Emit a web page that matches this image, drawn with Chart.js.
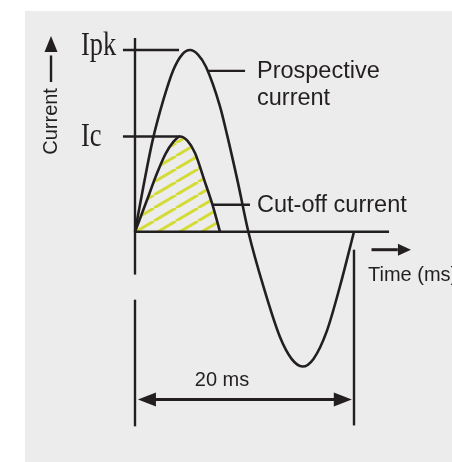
<!DOCTYPE html>
<html>
<head>
<meta charset="utf-8">
<script src="https://cdn.jsdelivr.net/npm/chart.js@4.4.1/dist/chart.umd.min.js"></script>
<style>
  html, body { margin: 0; padding: 0; background: #fff; }
  #wrap { position: relative; width: 452px; height: 462px; overflow: hidden; }
  #panel { position: absolute; left: 25px; top: 11px; right: 0; bottom: 0; background: #ebeceb; }
  #chart { position: absolute; left: 0; top: 0; }
</style>
</head>
<body>
<div id="wrap">
  <div id="panel"></div>
  <canvas id="chart" width="452" height="462"></canvas>
</div>
<script>
// ---- data (time in ms, current relative to Ipk) ----
const prospectiveTime    = [0, 0.8, 1.6, 2.59, 3.5, 4.3, 5.02, 5.75, 6.48, 7.76, 8.42, 9.4, 10.35, 11.72, 13.24, 14.3, 15.3, 16.3, 17.5, 18.72, 20];
const prospectiveCurrent = [0, 0.26, 0.5, 0.725, 0.89, 0.975, 1.0, 0.975, 0.908, 0.69, 0.53, 0.27, 0, -0.30, -0.58, -0.70, -0.742, -0.70, -0.55, -0.30, 0];

const cutoffTime    = [0, 1.07, 2.0, 2.8, 3.45, 4.11, 4.8, 5.48, 6.35, 7.12, 7.76];
const cutoffCurrent = [0, 0.17, 0.32, 0.43, 0.49, 0.524, 0.50, 0.433, 0.28, 0.14, 0];

const levelLabels = ['Ipk', 'Ic'];
const levelValues = [1.0, 0.524];
const periodLabel = '20 ms';
const periodMs = 20;

const ink = '#231f20';
const sans = '"Liberation Sans", Arial, sans-serif';
const serif = '"Liberation Serif", "Times New Roman", serif';

// diagonal yellow hatch for the let-through area
function makeHatch() {
    const w = 22, h = 13;
    const c = document.createElement('canvas');
    c.width = w; c.height = h;
    const g = c.getContext('2d');
    g.strokeStyle = '#d4db34';
    g.lineWidth = 2.9;
    [-w, 0, w].forEach(o => {
        g.beginPath();
        g.moveTo(o, h);
        g.lineTo(o + w, 0);
        g.stroke();
    });
    return document.getElementById('chart').getContext('2d').createPattern(c, 'repeat');
}

const toPoints = (xs, ys) => xs.map((t, i) => ({ x: t, y: ys[i] }));

// annotation layer: axes, leaders, arrows and labels
const diagramPlugin = {
    id: 'diagram',
    afterDatasetsDraw(chart) {
        const { ctx, scales: { x, y } } = chart;
        const X = v => x.getPixelForValue(v);
        const Y = v => y.getPixelForValue(v);

        const seg = (x1, y1, x2, y2, w) => {
            ctx.beginPath();
            ctx.lineWidth = w || 2.4;
            ctx.moveTo(x1, y1);
            ctx.lineTo(x2, y2);
            ctx.stroke();
        };
        // filled arrow head, tip at (tx,ty), pointing along (dx,dy)
        const head = (tx, ty, dx, dy, len, half) => {
            const px = -dy, py = dx;
            ctx.beginPath();
            ctx.moveTo(tx, ty);
            ctx.lineTo(tx - dx * len + px * half, ty - dy * len + py * half);
            ctx.lineTo(tx - dx * len - px * half, ty - dy * len - py * half);
            ctx.closePath();
            ctx.fill();
        };

        ctx.save();
        ctx.strokeStyle = ink;
        ctx.fillStyle = ink;
        ctx.lineCap = 'butt';

        // current axis (broken below the baseline)
        seg(X(0), Y(1.066), X(0), Y(-0.236));
        seg(X(0), Y(-0.374), X(0), Y(-1.071));
        // time axis
        seg(X(0), Y(0), X(23.2), Y(0), 2.6);

        // Ipk / Ic levels
        const levelEnds = [4.02, 4.11];
        levelValues.forEach((v, i) => seg(X(-1.1), Y(v), X(levelEnds[i]), Y(v)));

        // leaders to the curve labels
        seg(X(6.58), Y(0.885), X(10.05), Y(0.885));
        seg(X(7.12), Y(0.148), X(10.5), Y(0.148));

        // end of the period
        seg(X(periodMs), Y(-0.099), X(periodMs), Y(-1.066));

        // 20 ms dimension
        const dimY = Y(-0.923);
        seg(X(0.27) + 10, dimY, X(periodMs - 0.2) - 10, dimY, 3);
        head(X(0.27), dimY, -1, 0, 18, 7);
        head(X(periodMs - 0.2), dimY, 1, 0, 18, 7);

        // time arrow
        const tY = Y(-0.099);
        seg(X(21.6), tY, X(24.0), tY, 3);
        head(X(25.2), tY, 1, 0, 13, 6);

        // current arrow
        const cX = X(-7.67);
        seg(cX, Y(0.824), cX, Y(0.97), 2.4);
        head(cX, Y(1.077), 0, -1, 16, 6.5);

        // serif level labels, slightly condensed
        ctx.font = '33px ' + serif;
        ctx.textAlign = 'left';
        ctx.textBaseline = 'alphabetic';
        const levelBase = [0.973, 0.473];
        levelLabels.forEach((txt, i) => {
            ctx.save();
            ctx.translate(X(-4.93), Y(levelBase[i]));
            ctx.scale(0.8, 1);
            ctx.fillText(txt, 0, 0);
            ctx.restore();
        });

        // curve labels
        ctx.font = '23.5px ' + sans;
        ctx.fillText('Prospective', X(11.14), Y(0.845));
        ctx.fillText('current', X(11.14), Y(0.698));
        ctx.fillText('Cut-off current', X(11.14), Y(0.11));

        ctx.font = '20px ' + sans;
        ctx.fillText('Time (ms)', X(21.28), Y(-0.269));
        ctx.textAlign = 'center';
        ctx.fillText(periodLabel, X(periodMs / 2 - 2.05), Y(-0.85));

        // rotated axis title
        ctx.save();
        ctx.translate(X(-7.1), Y(0.607));
        ctx.rotate(-Math.PI / 2);
        ctx.textAlign = 'center';
        ctx.fillText('Current', 0, 0);
        ctx.restore();

        ctx.restore();
    }
};

const chart = new Chart(document.getElementById('chart'), {
    type: 'line',
    data: {
        datasets: [
            {
                label: 'Cut-off current',
                data: toPoints(cutoffTime, cutoffCurrent),
                borderColor: ink,
                borderWidth: 2.6,
                backgroundColor: makeHatch(),
                fill: 'origin',
                pointRadius: 0,
                cubicInterpolationMode: 'monotone',
                clip: false
            },
            {
                label: 'Prospective current',
                data: toPoints(prospectiveTime, prospectiveCurrent),
                borderColor: ink,
                borderWidth: 2.6,
                fill: false,
                pointRadius: 0,
                cubicInterpolationMode: 'monotone',
                clip: false
            }
        ]
    },
    options: {
        responsive: false,
        animation: false,
        devicePixelRatio: 1,
        layout: { padding: { left: 135, right: 98, top: 50, bottom: 94 } },
        plugins: { legend: { display: false }, tooltip: { enabled: false } },
        scales: {
            x: { type: 'linear', min: 0, max: 20, display: false },
            y: { type: 'linear', min: -0.75, max: 1, display: false }
        }
    },
    plugins: [diagramPlugin]
});
</script>
</body>
</html>
